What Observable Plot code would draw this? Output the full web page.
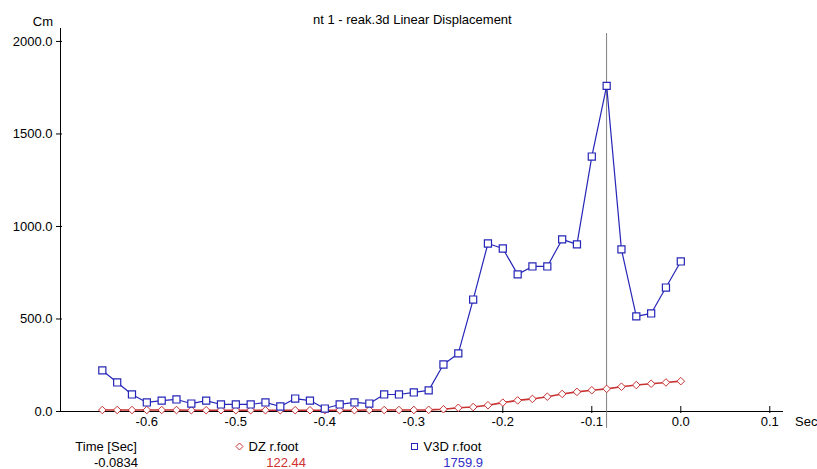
<!DOCTYPE html>
<html>
<head>
<meta charset="utf-8">
<script src="https://cdn.jsdelivr.net/npm/d3@7"></script>
<script src="https://cdn.jsdelivr.net/npm/@observablehq/plot@0.6"></script>
<style>
  html, body { margin: 0; padding: 0; background: #fff; }
  #wrap { position: relative; width: 817px; height: 469px; overflow: hidden; background: #fff;
          font-family: "Liberation Sans", Arial, sans-serif; font-size: 13px; color: #000; }
  #chart { position: absolute; left: 0; top: 0; }
  .t { position: absolute; line-height: 15px; white-space: nowrap; }
  .r { text-align: right; }
</style>
</head>
<body>
<div id="wrap">
  <div id="chart"></div>
  <div class="t" style="left:313px; top:12px;">nt 1 - reak.3d Linear Displacement</div>
  <div class="t r" style="left:0px; width:53px; top:14px;">Cm</div>
  <div class="t" style="left:795px; top:414px;">Sec</div>
  <div class="t r" style="left:0px; width:137px; top:439px;">Time [Sec]</div>
  <div class="t r" id="vTime" style="left:0px; width:138px; top:455px;"></div>
  <div class="t" style="left:235px; top:439px;"><svg width="10" height="10" style="vertical-align:-1px"><path d="M4.5,1 L8,4.5 L4.5,8 L1,4.5 Z" fill="#fff" stroke="#c83232" stroke-width="1"/></svg> DZ r.foot</div>
  <div class="t r" id="vDz" style="left:0px; width:306px; top:455px; color:#d03030;"></div>
  <div class="t" style="left:410px; top:439px;"><svg width="10" height="10" style="vertical-align:-1px"><rect x="1.5" y="1.5" width="6" height="6" fill="#fff" stroke="#2626b8" stroke-width="1"/></svg> V3D r.foot</div>
  <div class="t r" id="vV3d" style="left:0px; width:483px; top:455px; color:#3030c8;"></div>
</div>
<script>
// ---- data ----
const times = [-0.6500, -0.6333, -0.6167, -0.6000, -0.5833, -0.5667, -0.5500, -0.5333, -0.5167, -0.5000,
               -0.4833, -0.4667, -0.4500, -0.4333, -0.4167, -0.4000, -0.3833, -0.3667, -0.3500, -0.3333,
               -0.3167, -0.3000, -0.2833, -0.2667, -0.2500, -0.2333, -0.2167, -0.2000, -0.1833, -0.1667,
               -0.1500, -0.1333, -0.1167, -0.1000, -0.0833, -0.0667, -0.0500, -0.0333, -0.0167, 0.0000];
const dzFoot = [8, 8, 8, 8, 8, 8, 7, 7, 7, 7,
                7, 7, 7, 7, 7, 7, 7, 7, 8, 8,
                8, 8, 9, 12, 20, 24, 34, 48, 60, 68,
                80, 95, 106, 115, 122.44, 134, 143, 150, 157, 164];
const v3dFoot = [222, 157, 92, 49, 59, 65, 43, 59, 38, 38,
                 38, 49, 27, 70, 59, 16, 38, 49, 43, 92,
                 92, 103, 114, 254, 314, 605, 908, 881, 741, 784,
                 784, 930, 903, 1378, 1759.9, 876, 514, 530, 670, 811];
const xTicks = [-0.6, -0.5, -0.4, -0.3, -0.2, -0.1, 0.0, 0.1];
const yTicks = [0, 500, 1000, 1500, 2000];
const cursorTime = -0.0834;
const cursorDz = 122.44;
const cursorV3d = 1759.9;

const red = "#c83232";
const blue = "#2626b8";

const dz = times.map((t, i) => ({t, v: dzFoot[i]}));
const v3d = times.map((t, i) => ({t, v: v3dFoot[i]}));
const fmt = d => d.toFixed(1);

const chart = Plot.plot({
  width: 817,
  height: 435,
  marginLeft: 60,
  marginRight: 34,
  marginTop: 28,
  marginBottom: 24,
  x: {domain: [-0.697, 0.1154]},
  y: {domain: [0, 2070]},
  style: {fontFamily: "'Liberation Sans', Arial, sans-serif", fontSize: "13px", color: "#000", background: "transparent", overflow: "visible"},
  marks: [
    Plot.axisX({ticks: xTicks, tickSize: 7, dy: -5, tickFormat: () => "", label: null}),
    Plot.axisX({ticks: xTicks, tickSize: 0, tickPadding: 5, tickFormat: fmt, label: null}),
    Plot.axisY({ticks: yTicks, tickSize: 6, dx: 2, tickFormat: () => "", label: null}),
    Plot.axisY({ticks: yTicks, tickSize: 0, tickPadding: 8, tickFormat: fmt, label: null}),
    Plot.ruleY([0], {stroke: "#000"}),
    Plot.ruleX([-0.697], {stroke: "#000"}),
    Plot.ruleX([cursorTime], {stroke: "#808080", insetTop: 5, insetBottom: -17}),
    Plot.line(dz, {x: "t", y: "v", stroke: red, strokeWidth: 1.6}),
    Plot.dot(dz, {x: "t", y: "v", symbol: "diamond2", r: 3.4, stroke: red, fill: "white", strokeWidth: 1}),
    Plot.line(v3d, {x: "t", y: "v", stroke: blue, strokeWidth: 1.2}),
    Plot.dot(v3d, {x: "t", y: "v", symbol: "square", r: 4, stroke: blue, fill: "white", strokeWidth: 1.2})
  ]
});
document.getElementById("chart").appendChild(chart);
document.getElementById("vTime").textContent = cursorTime.toFixed(4);
document.getElementById("vDz").textContent = cursorDz.toFixed(2);
document.getElementById("vV3d").textContent = cursorV3d.toFixed(1);
</script>
</body>
</html>
